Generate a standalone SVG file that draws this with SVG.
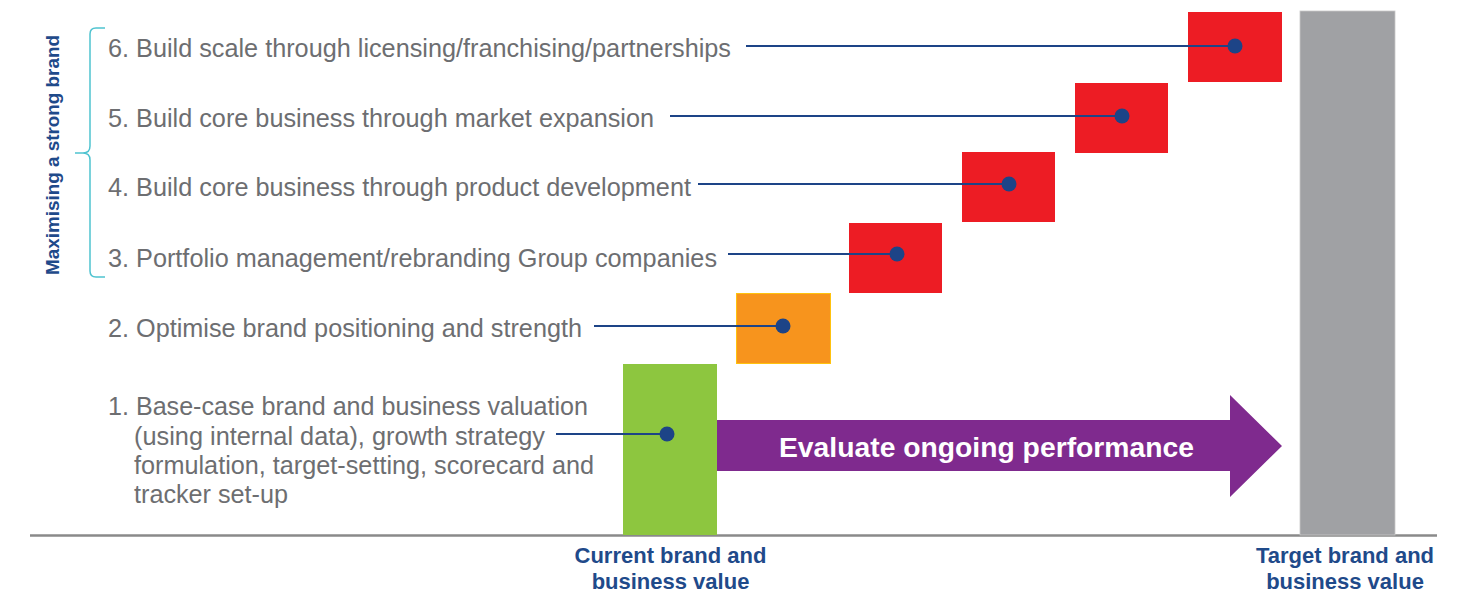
<svg xmlns="http://www.w3.org/2000/svg" width="1468" height="592" viewBox="0 0 1468 592">
<style>
.lbl{font-family:"Liberation Sans",Arial,sans-serif;font-size:25px;fill:#6d6e71}
.nav{font-family:"Liberation Sans",Arial,sans-serif;font-weight:bold;fill:#1f4a8a}
.ln{stroke:#1d4487;stroke-width:2;fill:none}
.dot{fill:#1d4487}
</style>
<rect width="1468" height="592" fill="#ffffff"/>
<g id="axis"><line x1="30" y1="535.5" x2="1437" y2="535.5" stroke="#8a8a8a" stroke-width="2.5"/></g>
<g id="target-bar"><rect x="1300" y="11" width="95" height="524" fill="#a0a1a4" stroke="#c8c8c8" stroke-width="0.8"/></g>
<g id="arrow">
<polygon points="717,420 1230,420 1230,395 1282,446 1230,497 1230,471 717,471" fill="#7f2a8e"/>
<text x="986.5" y="457" text-anchor="middle" font-family="Liberation Sans,Arial,sans-serif" font-weight="bold" font-size="28.4" fill="#ffffff" textLength="415" lengthAdjust="spacingAndGlyphs">Evaluate ongoing performance</text>
</g>
<g id="step1"><rect x="623" y="364" width="94" height="171" fill="#8dc63f"/></g>
<g id="step2"><rect x="736.5" y="293.5" width="94" height="70" fill="#f7941d" stroke="#ffc20e" stroke-width="1"/></g>
<g id="step3"><rect x="849" y="223" width="93" height="70" fill="#ed1c24"/></g>
<g id="step4"><rect x="962" y="152" width="93" height="70" fill="#ed1c24"/></g>
<g id="step5"><rect x="1075" y="83" width="93" height="70" fill="#ed1c24"/></g>
<g id="step6"><rect x="1188" y="12" width="94" height="70" fill="#ed1c24"/></g>
<g id="connectors">
<line class="ln" x1="746" y1="46" x2="1235" y2="46"/><circle class="dot" cx="1235" cy="46" r="7.5"/>
<line class="ln" x1="670" y1="116" x2="1122" y2="116"/><circle class="dot" cx="1122" cy="116" r="7.5"/>
<line class="ln" x1="698" y1="184" x2="1009" y2="184"/><circle class="dot" cx="1009" cy="184" r="7.5"/>
<line class="ln" x1="728" y1="254" x2="897" y2="254"/><circle class="dot" cx="897" cy="254" r="7.5"/>
<line class="ln" x1="594" y1="326" x2="783" y2="326"/><circle class="dot" cx="783" cy="326" r="7.5"/>
<line class="ln" x1="556" y1="434" x2="667" y2="434"/><circle class="dot" cx="667" cy="434" r="7.5"/>
</g>
<g id="labels">
<text class="lbl" x="108" y="57" textLength="623" lengthAdjust="spacingAndGlyphs">6. Build scale through licensing/franchising/partnerships</text>
<text class="lbl" x="108" y="127" textLength="546" lengthAdjust="spacingAndGlyphs">5. Build core business through market expansion</text>
<text class="lbl" x="108" y="196" textLength="583" lengthAdjust="spacingAndGlyphs">4. Build core business through product development</text>
<text class="lbl" x="108" y="267" textLength="609" lengthAdjust="spacingAndGlyphs">3. Portfolio management/rebranding Group companies</text>
<text class="lbl" x="108" y="337" textLength="474" lengthAdjust="spacingAndGlyphs">2. Optimise brand positioning and strength</text>
<text class="lbl" x="108" y="415" textLength="480" lengthAdjust="spacingAndGlyphs">1. Base-case brand and business valuation</text>
<text class="lbl" x="134" y="445" textLength="411" lengthAdjust="spacingAndGlyphs">(using internal data), growth strategy</text>
<text class="lbl" x="134" y="474" textLength="460" lengthAdjust="spacingAndGlyphs">formulation, target-setting, scorecard and</text>
<text class="lbl" x="134" y="503" textLength="154" lengthAdjust="spacingAndGlyphs">tracker set-up</text>
</g>
<g id="group-brace">
<path d="M105,28 H96 Q90,28 90,34 V146 Q90,153 83,153 H75 H83 Q90,153 90,160 V271 Q90,277 96,277 H105" fill="none" stroke="#4fc3d0" stroke-width="1.5"/>
<text class="nav" font-size="18.8" transform="translate(58.5,155) rotate(-90)" text-anchor="middle" textLength="240" lengthAdjust="spacingAndGlyphs">Maximising a strong brand</text>
</g>
<g id="axis-labels">
<text class="nav" font-size="22" x="670.5" y="563" text-anchor="middle">Current brand and</text>
<text class="nav" font-size="22" x="670.5" y="589" text-anchor="middle">business value</text>
<text class="nav" font-size="22" x="1345" y="563" text-anchor="middle">Target brand and</text>
<text class="nav" font-size="22" x="1345" y="589" text-anchor="middle">business value</text>
</g>
</svg>
